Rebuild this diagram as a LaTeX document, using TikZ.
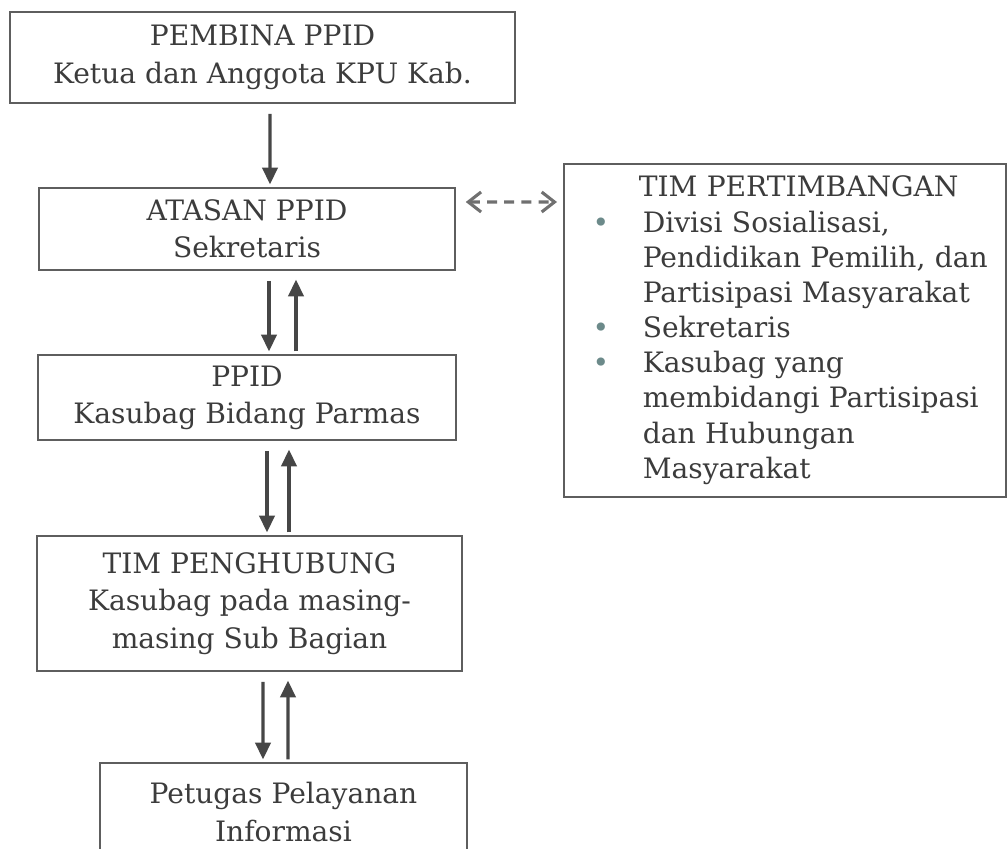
\documentclass[tikz,border=0pt]{standalone}
\usepackage{fontspec}
\setmainfont{DejaVu Serif}
\usepackage{tikz}
\usetikzlibrary{arrows.meta}
\definecolor{txtgray}{HTML}{3C3C3C}
\definecolor{boxgray}{HTML}{5E5E5E}
\definecolor{arrgray}{HTML}{464646}
\definecolor{dashgray}{HTML}{707070}
\definecolor{dotgray}{HTML}{6C8A8A}
\newcommand{\tpbullet}{\makebox[1.675cm][l]{\hspace{0.42cm}\textcolor{dotgray}{\textbullet}}}
\newcommand{\tpindent}{\hspace*{1.675cm}}

\begin{document}
\begin{tikzpicture}[every node/.style={draw=boxgray,line width=1.1pt,rectangle,align=center,text=txtgray,font=\fontsize{20}{26.5}\selectfont},
  linkdown/.style={-{Triangle[length=0.42cm,width=0.38cm]},line width=2.4pt,draw=arrgray,shorten <=0.25cm,shorten >=0.07cm},
  linkup/.style={-{Triangle[length=0.42cm,width=0.38cm]},line width=2.4pt,draw=arrgray,shorten <=0.07cm,shorten >=0.22cm},
  linkside/.style={{Straight Barb[length=0.32cm,width=0.5cm]}-{Straight Barb[length=0.32cm,width=0.5cm]},line width=2.2pt,draw=dashgray,dash pattern=on 0.25cm off 0.18cm,shorten <=0.25cm,shorten >=0.15cm}]
\useasboundingbox (0,0) rectangle (25.175,-21.225);
\node[minimum width=12.625cm,minimum height=2.275cm] (pembina) at (6.5625,-1.4375) {PEMBINA PPID\\Ketua dan Anggota KPU Kab.};
\node[minimum width=10.4cm,minimum height=2.05cm] (atasan) at (6.175,-5.725) {ATASAN PPID\\Sekretaris};
\node[minimum width=10.45cm,minimum height=2.125cm] (ppid) at (6.175,-9.9375) {PPID\\Kasubag Bidang Parmas};
\node[minimum width=10.625cm,minimum height=3.375cm] (penghubung) at (6.2375,-15.0875) {TIM PENGHUBUNG\\Kasubag pada masing-\\masing Sub Bagian};
\node[minimum width=9.175cm,minimum height=2.45cm] (petugas) at (7.0875,-20.3) {Petugas Pelayanan\\Informasi};
\node[anchor=north west,minimum height=8.325cm,text width=10.45cm,inner xsep=0.3cm,align=left,font=\fontsize{20}{25}\selectfont] (tim) at (14.075,-4.075) {\hspace*{1.575cm}TIM PERTIMBANGAN\\
\tpbullet Divisi Sosialisasi,\\
\tpindent Pendidikan Pemilih, dan\\
\tpindent Partisipasi Masyarakat\\
\tpbullet Sekretaris\\
\tpbullet Kasubag yang\\
\tpindent membidangi Partisipasi\\
\tpindent dan Hubungan\\
\tpindent Masyarakat};

\draw[linkdown] ([xshift=0.1875cm]pembina.south) -- ([xshift=0.575cm]atasan.north);
\draw[linkdown] ([xshift=0.55cm]atasan.south) -- ([xshift=0.55cm]ppid.north);
\draw[linkup] ([xshift=1.225cm]ppid.north) -- ([xshift=1.225cm]atasan.south);
\draw[linkdown] ([xshift=0.5cm]ppid.south) -- ([xshift=0.4375cm]penghubung.north);
\draw[linkup] ([xshift=0.9875cm]penghubung.north) -- ([xshift=1.05cm]ppid.south);
\draw[linkdown] ([xshift=0.3375cm]penghubung.south) -- ([xshift=-0.5125cm]petugas.north);
\draw[linkup] ([xshift=0.1125cm]petugas.north) -- ([xshift=0.9625cm]penghubung.south);
\draw[linkside] ([yshift=0.675cm]atasan.east) -- ([yshift=-0.975cm]tim.north west);
\end{tikzpicture}
\end{document}
